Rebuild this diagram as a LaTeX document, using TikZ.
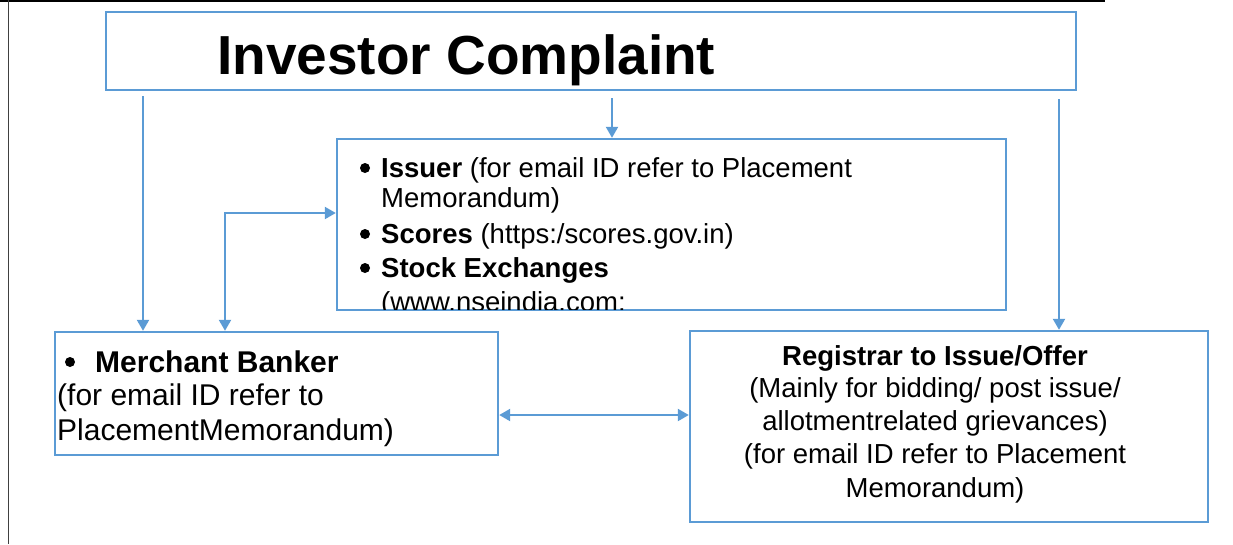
\documentclass[tikz,border=0pt]{standalone}
\usepackage{fontspec}
\setmainfont{Liberation Sans}
\usetikzlibrary{arrows.meta}
\definecolor{boxblue}{RGB}{91,155,213}
\begin{document}
\begin{tikzpicture}[x=1pt,y=-1pt,
  box/.style={draw=boxblue,line width=2.4pt,rectangle,inner sep=0pt},
  conn/.style={draw=boxblue,line width=2.2pt},
  tipend/.style={-{Triangle[width=12pt,length=11pt]}},
  tipboth/.style={{Triangle[width=12pt,length=11pt]}-{Triangle[width=12pt,length=11pt]}},
  txt/.style={inner sep=0pt,anchor=base west,font=\fontsize{27.5}{33}\selectfont},
  mtxt/.style={inner sep=0pt,anchor=base west,font=\fontsize{30}{34}\selectfont},
  ctxt/.style={inner sep=0pt,anchor=base,font=\fontsize{27.5}{33}\selectfont},
  bul/.style={circle,fill=black,inner sep=0pt,minimum size=10pt}
]
\useasboundingbox (0,0) rectangle (1233,544);
% page frame lines
\draw[line width=2.5pt] (0,1.2) -- (1105,1.2);
\draw[line width=1.5pt,black!75] (8.5,0) -- (8.5,544);

% boxes
\node[box,minimum width=970pt,minimum height=78pt] (inv) at (591,51) {};
\node[box,minimum width=669pt,minimum height=171pt] (iss) at (671.5,224.5) {};
\node[box,minimum width=443pt,minimum height=123pt] (mb) at (276.5,393.5) {};
\node[box,minimum width=518pt,minimum height=191pt] (rg) at (949,426.5) {};

% title
\node[inner sep=0pt,anchor=base west,font=\fontsize{55}{55}\selectfont\bfseries] (title) at (217,74) {Investor Complaint};

% issuer text (clipped by the box)
\begin{scope}
\clip (338,140) rectangle (1005,309);
\node[bul] (ib1) at (365,168) {};
\node[txt] (it1) at (381,177) {\textbf{Issuer} (for email ID refer to Placement};
\node[txt] (it2) at (381,207) {Memorandum)};
\node[bul] (ib3) at (365,234) {};
\node[txt] (it3) at (381,243) {\textbf{Scores} (https:/scores.gov.in)};
\node[bul] (ib4) at (365,268) {};
\node[txt] (it4) at (381,277) {\textbf{Stock Exchanges}};
\node[txt] (it5) at (381,311) {(www.nseindia.com:};
\end{scope}

% merchant banker text
\node[bul] (mbb) at (70,362) {};
\node[mtxt] (mt1) at (95,372) {\textbf{Merchant Banker}};
\node[mtxt] (mt2) at (57,405) {(for email ID refer to};
\node[mtxt] (mt3) at (57,440) {PlacementMemorandum)};

% registrar text
\node[ctxt] (rt1) at (935,365) {\textbf{Registrar to Issue/Offer}};
\node[ctxt] (rt2) at (935,397) {(Mainly for bidding/ post issue/};
\node[ctxt] (rt3) at (935,430) {allotmentrelated grievances)};
\node[ctxt] (rt4) at (935,463) {(for email ID refer to Placement};
\node[ctxt] (rt5) at (935,497) {Memorandum)};

% connectors
\coordinate (xa) at (143,0);
\coordinate (xb) at (612,0);
\coordinate (xc) at (1059,0);
\coordinate (xd) at (225,0);
\coordinate (ye) at (0,213);
\coordinate (yf) at (0,415);
\draw[conn,tipend,shorten <=5pt] (inv.south -| xa) -- (mb.north -| xa);
\draw[conn,tipend,shorten <=7pt] (inv.south -| xb) -- (iss.north -| xb);
\draw[conn,tipend,shorten <=8pt] (inv.south -| xc) -- (rg.north -| xc);
\draw[conn,tipboth] (mb.north -| xd) |- (iss.west |- ye);
\draw[conn,tipboth] (mb.east |- yf) -- (rg.west |- yf);
\end{tikzpicture}
\end{document}
